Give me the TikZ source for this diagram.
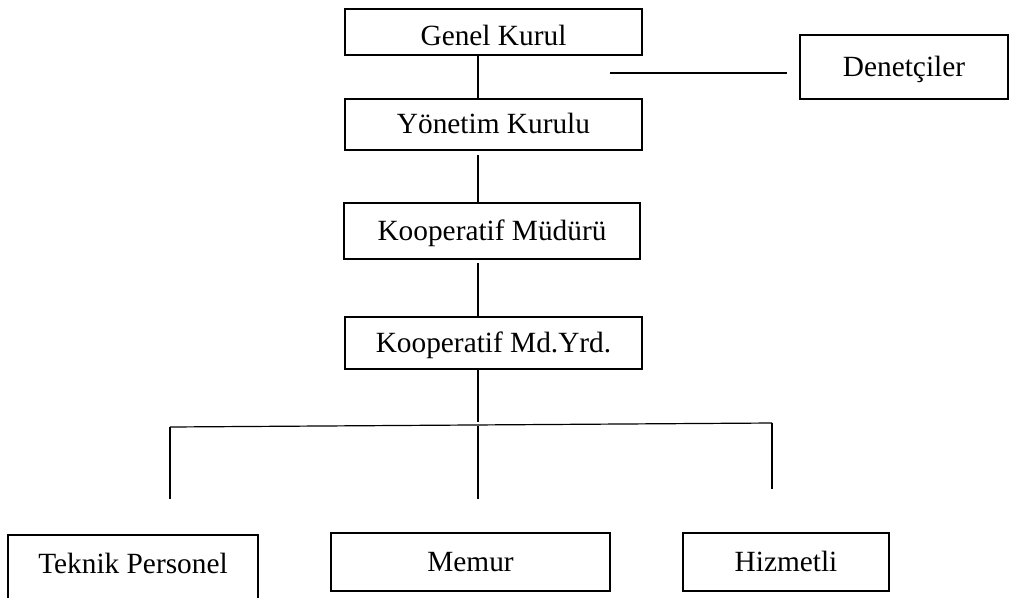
\documentclass[tikz,border=0pt]{standalone}
\usepackage{fontspec}
\setmainfont{Liberation Serif}
\usepackage{tikz}

\begin{document}
\begin{tikzpicture}[x=0.75pt,y=-0.75pt,line width=0.9pt,
  unit/.style={draw,inner sep=0pt,text height=15pt,text depth=1.5pt,font=\fontsize{22}{26}\selectfont}]
\useasboundingbox (0,0) rectangle (1009,597);
\node[unit,minimum width=222.75pt,minimum height=34.5pt,text height=22pt] (gk) at (493.5,32) {Genel Kurul};
\node[unit,minimum width=156pt,minimum height=48pt] (dn) at (904,67) {Denetçiler};
\node[unit,minimum width=222.75pt,minimum height=38.25pt] (yk) at (493.5,124.5) {Yönetim Kurulu};
\node[unit,minimum width=222pt,minimum height=42pt] (km) at (492,231) {Kooperatif Müdürü};
\node[unit,minimum width=222.75pt,minimum height=39pt] (my) at (493.5,343) {Kooperatif Md.Yrd.};
\node[unit,minimum width=187.5pt,minimum height=49.5pt,text depth=7.5pt] (tp) at (133,568) {Teknik Personel};
\node[unit,minimum width=209.25pt,minimum height=43.5pt] (me) at (470.5,562) {Memur};
\node[unit,minimum width=154.5pt,minimum height=43.5pt] (hz) at (786,562) {Hizmetli};
% denetim hatti
\coordinate (dl) at (610,73);
\coordinate (dr) at (787,73);
\draw (dl) -- (dr);
% dikey hat
\draw (gk.south -| 478,0) -- (yk.north -| 478,0);
\draw (478,155) -- (km.north -| 478,0);
\draw (478,263) -- (my.north -| 478,0);
\coordinate (bm) at (478,425);
\draw (my.south -| 478,0) -- (478,422);
% alt dagitim
\coordinate (bl) at (170,427);
\coordinate (br) at (772,423);
\coordinate (tpu) at (170,499);
\coordinate (meu) at (478,499);
\coordinate (hzu) at (772,489);
\draw (bl) -- (br);
\draw (bl) -- (tpu);
\draw (478,426) -- (meu);
\draw (br) -- (hzu);
\end{tikzpicture}
\end{document}
